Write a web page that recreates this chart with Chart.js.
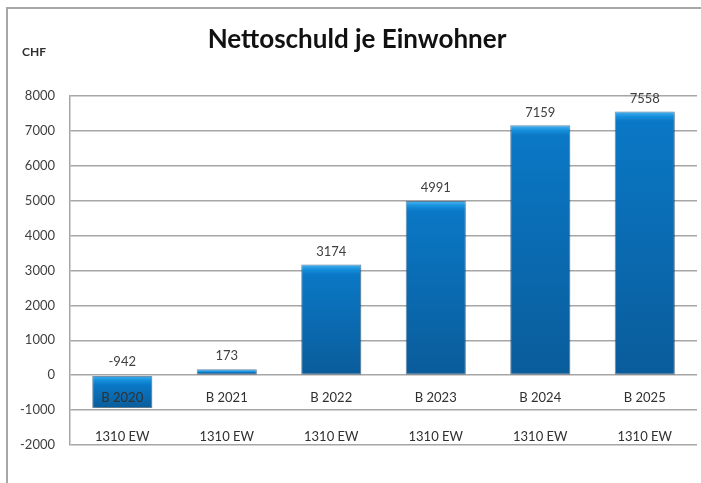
<!doctype html>
<html lang="de">
  <head>
    <meta charset="utf-8">
    <title>Nettoschuld je Einwohner</title>
    <style>
      * { margin: 0; padding: 0; }
      body { background: #fff; overflow: hidden; }
      .chartBox { position: relative; width: 701px; height: 483px; }
    </style>
  </head>
  <body>
    <div class="chartBox">
      <canvas id="myChart"></canvas>
    </div>
    <script src="https://cdn.jsdelivr.net/npm/chart.js/dist/chart.umd.min.js"></script>
    <script>
    // data
    const years = ['B 2020', 'B 2021', 'B 2022', 'B 2023', 'B 2024', 'B 2025'];
    const residents = ['1310 EW', '1310 EW', '1310 EW', '1310 EW', '1310 EW', '1310 EW'];
    const debtPerResident = [-942, 173, 3174, 4991, 7159, 7558];
    const yTicks = [-2000, -1000, 0, 1000, 2000, 3000, 4000, 5000, 6000, 7000, 8000];

    const titleText = 'Nettoschuld je Einwohner';
    const unitText = 'CHF';
    const font = 'Lato';
    const gridGray = '#a6a6a6';

    // each bar gets its own top-to-bottom gradient
    function barFill(ctx) {
      const chart = ctx.chart;
      if (!chart.chartArea || ctx.raw === undefined) return '#0a72bf';
      const y = chart.scales.y;
      const a = y.getPixelForValue(Math.max(ctx.raw, 0));
      const b = y.getPixelForValue(Math.min(ctx.raw, 0));
      const h = Math.max(b - a, 1);
      const g = chart.ctx.createLinearGradient(0, a, 0, b);
      const band = Math.min(5 / h, 0.45);
      g.addColorStop(0, '#4ab4f2');
      g.addColorStop(band, '#1690dc');
      g.addColorStop(Math.min(band * 2, 0.5), '#0a78c6');
      g.addColorStop(1, '#0a5c9a');
      return g;
    }

    const frame = {
      id: 'frame',
      beforeDraw(chart) {
        const c = chart.ctx;
        c.save();
        c.strokeStyle = gridGray;
        c.lineWidth = 2;
        c.strokeRect(7, 8, 800, 600);
        c.restore();
      },
      beforeDatasetsDraw(chart) {
        chart.ctx.save();
        chart.ctx.shadowColor = 'rgba(0,0,0,0.35)';
        chart.ctx.shadowBlur = 3;
        chart.ctx.shadowOffsetX = 1;
        chart.ctx.shadowOffsetY = 1;
      },
      afterDatasetsDraw(chart) {
        chart.ctx.restore();
        const c = chart.ctx;
        const y = chart.scales.y;
        c.save();
        c.font = '13px ' + font;
        c.fillStyle = '#404040';
        c.textAlign = 'center';
        c.textBaseline = 'middle';
        chart.getDatasetMeta(0).data.forEach((bar, i) => {
          const v = debtPerResident[i];
          const top = y.getPixelForValue(Math.max(v, 0));
          c.fillText(String(v), bar.x, top - 13);
        });
        c.restore();
      },
      afterDraw(chart) {
        const c = chart.ctx;
        c.save();
        c.fillStyle = '#111';
        c.textAlign = 'center';
        c.textBaseline = 'middle';
        c.font = 'bold 26px ' + font;
        c.fillText(titleText, 357, 40);
        c.fillStyle = '#303030';
        c.textAlign = 'left';
        c.font = 'bold 12px ' + font;
        c.fillText(unitText, 22, 52);
        c.restore();
      }
    };

    // setup
    const data = {
      labels: years.map((y, i) => [y, residents[i]]),
      datasets: [{
        data: debtPerResident,
        backgroundColor: barFill,
        borderColor: 'rgba(8,70,120,0.55)',
        borderWidth: 1,
        borderSkipped: false,
        barPercentage: 0.575,
        categoryPercentage: 1
      }]
    };

    // config
    const config = {
      type: 'bar',
      data,
      options: {
        responsive: true,
        maintainAspectRatio: false,
        animation: false,
        layout: { padding: { top: 96, left: 6, right: 4, bottom: 38 } },
        plugins: {
          legend: { display: false },
          title: { display: false },
          tooltip: { enabled: false }
        },
        scales: {
          x: {
            position: { y: 0 },
            grid: { display: false, drawTicks: false },
            border: { display: false },
            ticks: {
              z: 1,
              padding: 3,
              color: '#303030',
              maxRotation: 0,
              autoSkip: false,
              font: { family: font, size: 13, lineHeight: 3.0 }
            }
          },
          y: {
            min: -2000,
            max: 8000,
            afterFit(scale) { scale.width = 64; },
            afterBuildTicks(scale) { scale.ticks = yTicks.map(v => ({ value: v })); },
            grid: { color: gridGray, lineWidth: 1.5, drawTicks: false },
            border: { display: true, color: gridGray, width: 1.5 },
            ticks: {
              padding: 15,
              color: '#404040',
              font: { family: font, size: 13 },
              callback: v => String(v)
            }
          }
        }
      },
      plugins: [frame]
    };

    // render init block
    const myChart = new Chart(document.getElementById('myChart'), config);
    </script>
  </body>
</html>
